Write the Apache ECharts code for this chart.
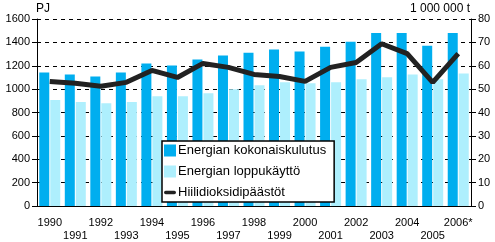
<!DOCTYPE html>
<html><head><meta charset="utf-8">
<script src="https://cdn.jsdelivr.net/npm/echarts@6/dist/echarts.min.js"></script>
<style>html,body{margin:0;padding:0;background:#fff}#c{width:495px;height:242px}</style>
</head><body><div id="c"></div>
<script>
var years = ['1990','1991','1992','1993','1994','1995','1996','1997','1998','1999','2000','2001','2002','2003','2004','2005','2006*'];
var totalConsumption = [1143,1126,1109,1143,1219,1202,1253,1287,1312,1338,1321,1363,1405,1481,1481,1371,1481];
var finalConsumption = [906,889,880,889,940,940,965,999,1033,1058,1050,1058,1084,1101,1126,1084,1134];
var co2 = [53.3,52.5,51.2,52.9,58.0,55.0,61.0,59.3,56.3,55.4,53.3,59.3,61.4,69.4,65.2,52.9,65.2];
var names = ['Energian kokonaiskulutus','Energian loppukäyttö','Hiilidioksidipäästöt'];
var leftTitle = 'PJ', rightTitle = '1 000 000 t';

var chart = echarts.init(document.getElementById('c'));
var axisFont = {color:'#000', fontSize:11, fontFamily:'Liberation Sans, Arial, sans-serif'};
function plain(v){ return String(v); }
chart.setOption({
  animation:false,
  grid:{left:37, right:24, top:19, bottom:34},
  graphic:[
    {type:'text', left:36, top:3, style:{text:leftTitle, fill:'#000', font:'12px Liberation Sans, Arial, sans-serif'}},
    {type:'text', right:25, top:3, style:{text:rightTitle, fill:'#000', font:'12px Liberation Sans, Arial, sans-serif'}}
  ],
  legend:{
    orient:'vertical', left:162, top:141,
    backgroundColor:'#fff', borderColor:'#000', borderWidth:1.5, padding:[3,8,3,2],
    itemWidth:12, itemHeight:12, itemGap:8, symbolKeepAspect:true,
    textStyle:{color:'#000', fontSize:13, fontFamily:'Liberation Sans, Arial, sans-serif', padding:[0,0,0,-3]},
    data:[{name:names[0], icon:'rect'},{name:names[1], icon:'rect'},
          {name:names[2], icon:'path://M2,0 L12,0 A2,2 0 0 1 12,4 L2,4 A2,2 0 0 1 2,0 Z', itemStyle:{color:'#222'}}]
  },
  xAxis:{
    type:'category', data:years,
    axisLine:{lineStyle:{color:'#000', width:1}},
    axisTick:{alignWithLabel:true, length:5, lineStyle:{color:'#000'}},
    axisLabel:Object.assign({interval:0, margin:10, lineHeight:13, formatter:function(v,i){return i%2 ? '\n'+v : v;}}, axisFont)
  },
  yAxis:[
    {type:'value', min:0, max:1600, interval:200,
     axisLine:{show:true, lineStyle:{color:'#000'}},
     axisTick:{show:true, length:5, lineStyle:{color:'#000'}},
     axisLabel:Object.assign({margin:7, formatter:plain}, axisFont),
     splitLine:{show:true, lineStyle:{color:'#000', type:[4,4], width:1}}},
    {type:'value', min:0, max:80, interval:10, position:'right',
     axisLine:{show:true, lineStyle:{color:'#000'}},
     axisTick:{show:true, length:5, lineStyle:{color:'#000'}},
     axisLabel:Object.assign({margin:7, formatter:plain}, axisFont),
     splitLine:{show:false}}
  ],
  series:[
    {name:names[0], type:'bar', data:totalConsumption, barWidth:10, barGap:'10%', itemStyle:{color:'#00AEEF'}},
    {name:names[1], type:'bar', data:finalConsumption, barWidth:10, itemStyle:{color:'#AEEFFD'}},
    {name:names[2], type:'line', yAxisIndex:1, data:co2, symbol:'none', lineStyle:{color:'#222', width:5}, itemStyle:{color:'#222'}, z:5}
  ]
});
</script></body></html>
